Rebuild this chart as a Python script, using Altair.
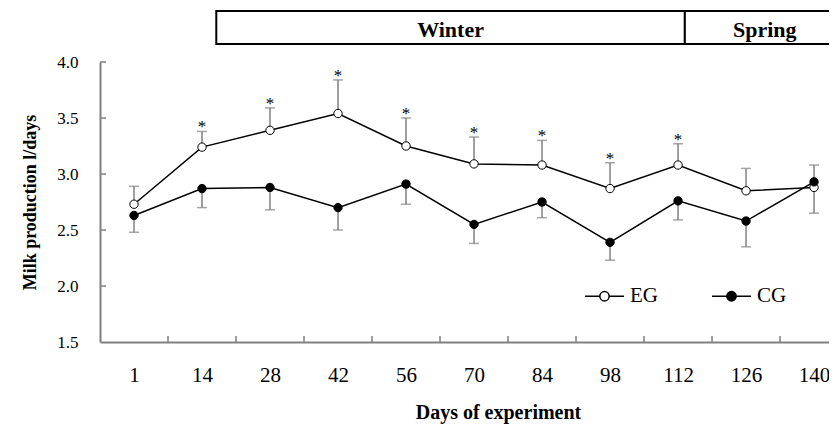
import altair as alt
import pandas as pd

# ---- data ----
days = [1, 14, 28, 42, 56, 70, 84, 98, 112, 126, 140]
eg_mean = [2.73, 3.24, 3.39, 3.54, 3.25, 3.09, 3.08, 2.87, 3.08, 2.85, 2.88]
eg_sd = [0.16, 0.14, 0.20, 0.30, 0.25, 0.24, 0.22, 0.23, 0.19, 0.20, 0.23]
eg_dir = [1, 1, 1, 1, 1, 1, 1, 1, 1, 1, -1]
eg_sig = [0, 1, 1, 1, 1, 1, 1, 1, 1, 0, 0]
cg_mean = [2.63, 2.87, 2.88, 2.70, 2.91, 2.55, 2.75, 2.39, 2.76, 2.58, 2.93]
cg_sd = [0.15, 0.17, 0.20, 0.20, 0.18, 0.17, 0.14, 0.16, 0.17, 0.23, 0.15]
cg_dir = [-1, -1, -1, -1, -1, -1, -1, -1, -1, -1, 1]
cg_sig = [0] * 11
series = ["EG", "CG"]

seasons = ["Winter", "Spring"]
season_start = [1.21, 8.10]   # in day-index units
season_end = [8.10, 10.45]

y_values = [1.5, 2.0, 2.5, 3.0, 3.5, 4.0]
y_inner_ticks = [2.0, 2.5, 3.0, 3.5, 4.0]
x_bounds = [i + 0.5 for i in range(len(days) - 1)]

rows = []
for name, m, sd, d, sg in [("EG", eg_mean, eg_sd, eg_dir, eg_sig),
                           ("CG", cg_mean, cg_sd, cg_dir, cg_sig)]:
    for i in range(len(days)):
        rows.append({"idx": i, "day": days[i], "series": name, "mean": m[i],
                     "err": m[i] + d[i] * sd[i], "sig": sg[i]})
df = pd.DataFrame(rows)
season_df = pd.DataFrame({"season": seasons, "start": season_start, "end": season_end})
yt_df = pd.DataFrame({"v": y_inner_ticks})
xt_df = pd.DataFrame({"b": x_bounds})

FONT = "Liberation Serif"
GRAY = "#808080"
W, H = 729, 280

label_expr = "[" + ",".join("'%d'" % d for d in days) + "][datum.value]"

xscale = alt.Scale(domain=[-0.5, 10.22], nice=False, zero=False)
yscale = alt.Scale(domain=[1.5, 4.0], nice=False, zero=False)

xaxis = alt.Axis(title="Days of experiment", values=list(range(len(days))),
                 labelExpr=label_expr, ticks=False, tickSize=0, grid=False,
                 domainColor=GRAY, domainWidth=2,
                 labelFont=FONT, labelFontSize=21, labelColor="black",
                 labelBaseline="alphabetic", labelPadding=39,
                 titleFont=FONT, titleFontSize=20, titleFontWeight="bold",
                 titleColor="black", titleX=398, titleY=76,
                 titleBaseline="alphabetic", titleAlign="center")
yaxis = alt.Axis(title="Milk production l/days", values=y_values, format=".1f",
                 ticks=False, tickSize=0, grid=False,
                 domainColor=GRAY, domainWidth=2,
                 labelFont=FONT, labelFontSize=17, labelColor="black",
                 labelBaseline="middle", labelPadding=22,
                 titleFont=FONT, titleFontSize=18, titleFontWeight="bold",
                 titleColor="black", titleAngle=270, titleX=-65, titleY=140,
                 titleBaseline="alphabetic", titleAlign="center")

X = alt.X("idx:Q", scale=xscale, axis=xaxis)
Y = alt.Y("mean:Q", scale=yscale, axis=yaxis)

base = alt.Chart(df)

err_rules = base.mark_rule(color=GRAY, strokeWidth=1.5).encode(
    x=X, y=Y, y2="err:Q")
err_caps = base.mark_tick(orient="horizontal", size=10, thickness=1.5, color=GRAY).encode(
    x=X, y=alt.Y("err:Q", scale=yscale, axis=yaxis))
lines = base.mark_line(color="black", strokeWidth=1.5).encode(
    x=X, y=Y, detail="series:N")

symbol_path = ("M-1,0H-0.24M0.24,0H1M-0.24,0A0.24,0.24,0,1,0,0.24,0"
               "A0.24,0.24,0,1,0,-0.24,0Z")
points = base.mark_circle(size=70, stroke="black", strokeWidth=1,
                          opacity=1, fillOpacity=1).encode(
    x=X, y=Y,
    fill=alt.Fill("series:N",
                  scale=alt.Scale(domain=series, range=["white", "black"]),
                  legend=alt.Legend(orient="none", legendX=484, legendY=213.5,
                                    direction="horizontal", title=None, padding=0,
                                    symbolType=symbol_path, symbolSize=1521,
                                    symbolStrokeColor="black", symbolStrokeWidth=1.5,
                                    labelFont=FONT, labelFontSize=21,
                                    labelColor="black", labelOffset=5,
                                    labelBaseline="middle", columnPadding=51)))

stars = base.transform_filter("datum.sig == 1").mark_text(
    text="*", font=FONT, fontSize=17, baseline="alphabetic", dy=1, color="black"
).encode(x=X, y=alt.Y("err:Q", scale=yscale, axis=yaxis))

season_boxes = alt.Chart(season_df).mark_rect(
    fill="white", stroke="black", strokeWidth=2).encode(
    x=alt.X("start:Q", scale=xscale, axis=xaxis), x2="end:Q",
    y=alt.value(-51), y2=alt.value(-18))
season_text = alt.Chart(season_df).transform_calculate(
    mid="(datum.start + datum.end) / 2").mark_text(
    font=FONT, fontSize=22, fontWeight="bold", color="black",
    baseline="alphabetic").encode(
    x=alt.X("mid:Q", scale=xscale, axis=xaxis), y=alt.value(-25),
    text="season:N")

ytick_marks = alt.Chart(yt_df).mark_rule(color=GRAY, strokeWidth=1.5).encode(
    y=alt.Y("v:Q", scale=yscale, axis=yaxis), x=alt.value(0), x2=alt.value(6))
xtick_marks = alt.Chart(xt_df).mark_rule(color=GRAY, strokeWidth=1.5).encode(
    x=alt.X("b:Q", scale=xscale, axis=xaxis), y=alt.value(H), y2=alt.value(H - 6))

chart = alt.layer(
    season_boxes, season_text, err_rules, err_caps, lines, points, stars,
    ytick_marks, xtick_marks
).properties(
    width=W, height=H,
    autosize=alt.AutoSizeParams(type="none"),
    padding={"left": 92, "top": 54, "right": 0, "bottom": 82},
    background="white",
).configure_view(stroke=None)

chart.save("out.html", embed_options={"renderer": "svg", "actions": False})
